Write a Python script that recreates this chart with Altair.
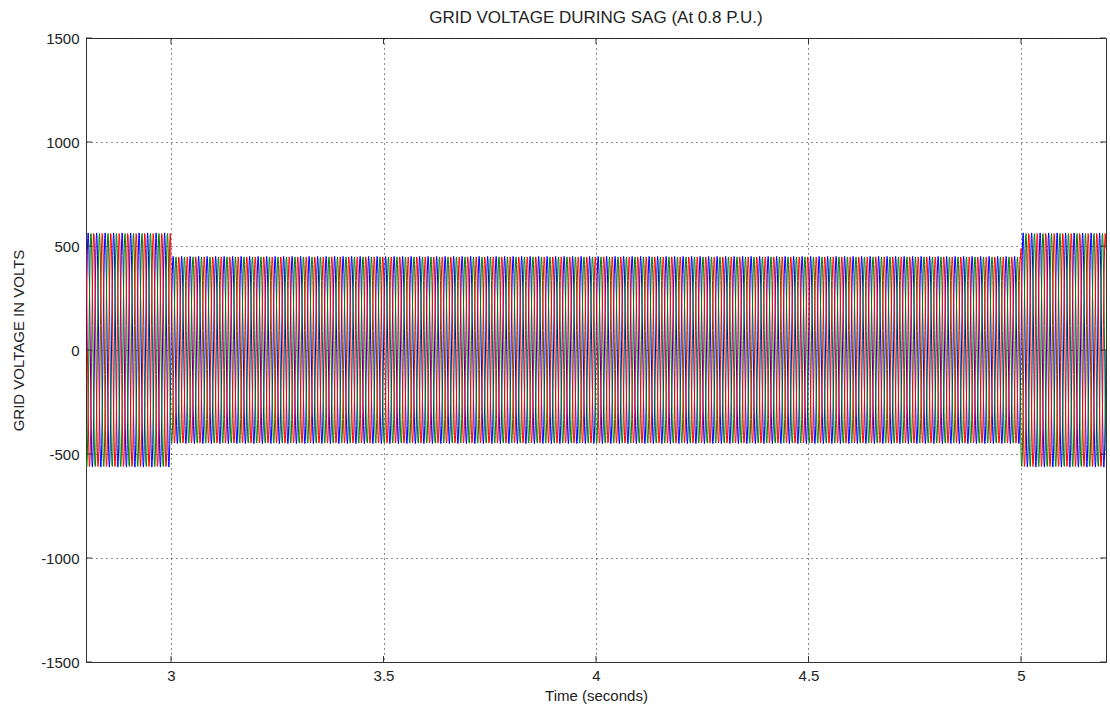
import numpy as np
import pandas as pd
import altair as alt

alt.data_transformers.disable_max_rows()

TITLE = "GRID VOLTAGE DURING SAG (At 0.8 P.U.)"
X_TITLE = "Time (seconds)"
Y_TITLE = "GRID VOLTAGE IN VOLTS"
x_ticks = [3, 3.5, 4, 4.5, 5]
y_ticks = [-1500, -1000, -500, 0, 500, 1000, 1500]
x_domain = [2.8, 5.2]
y_domain = [-1500, 1500]

phases = ["Phase A", "Phase B", "Phase C"]
phase_colors = ["#0000ff", "#008000", "#ff0000"]
phase_shift_deg = [0, -120, 120]

# sag segments
segment_start = [2.8, 3.0, 5.0]
segment_end = [3.0, 5.0, 5.2]
segment_peak = [563, 450, 563]
frequency_hz = 50
samples_per_cycle = 20

W, H = 1020, 624
FONT = "Liberation Sans"

step = 1.0 / (frequency_hz * samples_per_cycle)
t = np.round(np.arange(x_domain[0], x_domain[1] + step / 2, step), 6)
peak = np.zeros_like(t)
for s, e, p in zip(segment_start, segment_end, segment_peak):
    peak[(t >= s) & (t <= e)] = p

frames = []
for name, sh in zip(phases, phase_shift_deg):
    v = peak * np.sin(2 * np.pi * frequency_hz * t + np.deg2rad(sh))
    frames.append(pd.DataFrame({"t": t, "v": v, "phase": name}))
df = pd.concat(frames, ignore_index=True)

xs = alt.Scale(domain=x_domain, nice=False, zero=False)
ys = alt.Scale(domain=y_domain, nice=False, zero=False)

x_axis = alt.Axis(values=x_ticks, title=X_TITLE, grid=True, gridDash=[1, 4],
                  gridColor="#000000", gridOpacity=0.9, ticks=False,
                  labelExpr="'' + datum.value",
                  labelPadding=6, titlePadding=5, labelFlush=False,
                  domain=True, domainColor="#333333")
y_axis = alt.Axis(values=y_ticks, title=Y_TITLE, grid=True, gridDash=[1, 4],
                  gridColor="#000000", gridOpacity=0.9, ticks=False,
                  labelExpr="'' + datum.value",
                  labelPadding=7, titleX=-68, titleY=H / 2 - 10, titleAngle=270,
                  titleAlign="center", titleBaseline="middle",
                  domain=True, domainColor="#333333")

base = alt.Chart(df)
lines = []
for name, col in zip(phases, phase_colors):
    lines.append(
        base.transform_filter(alt.datum.phase == name)
        .mark_line(color=col, strokeWidth=1, clip=True)
        .encode(x=alt.X("t:Q", scale=xs, axis=x_axis),
                y=alt.Y("v:Q", scale=ys, axis=y_axis))
    )

xt = pd.DataFrame({"x": x_ticks})
yt = pd.DataFrame({"y": y_ticks})
tick_style = dict(color="#333333", strokeWidth=1)
xticks_b = alt.Chart(xt).mark_rule(**tick_style).encode(
    x=alt.X("x:Q", scale=xs), y=alt.value(H), y2=alt.value(H - 6))
xticks_t = alt.Chart(xt).mark_rule(**tick_style).encode(
    x=alt.X("x:Q", scale=xs), y=alt.value(0), y2=alt.value(6))
yticks_l = alt.Chart(yt).mark_rule(**tick_style).encode(
    y=alt.Y("y:Q", scale=ys), x=alt.value(0), x2=alt.value(6))
yticks_r = alt.Chart(yt).mark_rule(**tick_style).encode(
    y=alt.Y("y:Q", scale=ys), x=alt.value(W), x2=alt.value(W - 6))

chart = alt.layer(*lines, xticks_b, xticks_t, yticks_l, yticks_r).properties(
    width=W, height=H,
    background="#ffffff",
    title=alt.TitleParams(TITLE, fontSize=17, font=FONT, fontWeight="normal",
                          color="#222222", anchor="middle", offset=4),
    autosize=alt.AutoSizeParams(type="none"),
    padding={"left": 86, "top": 38, "right": 4, "bottom": 49},
).configure_axis(
    labelFont=FONT, titleFont=FONT, labelFontSize=15, titleFontSize=15,
    labelColor="#222222", titleColor="#222222", titleFontWeight="normal",
).configure_view(stroke="#333333", strokeWidth=1)

chart.save("out.html", embed_options={"renderer": "svg", "actions": False})
